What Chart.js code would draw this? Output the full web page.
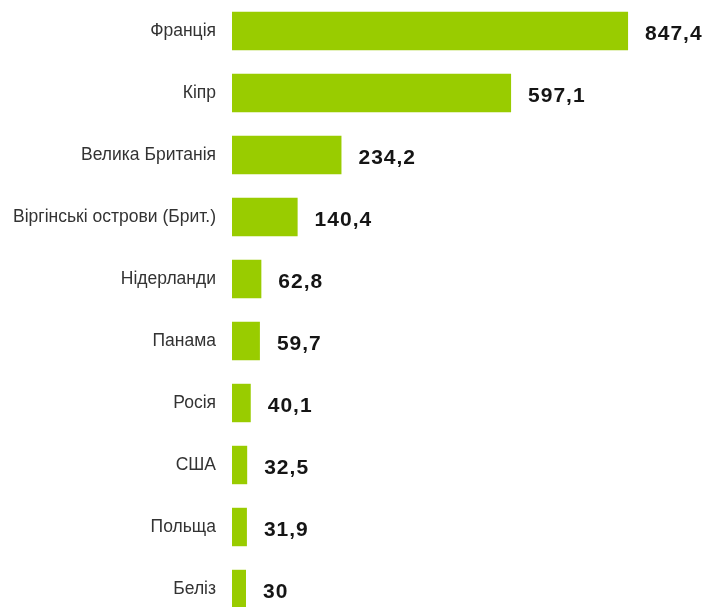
<!DOCTYPE html>
<html>
<head>
<meta charset="utf-8">
<script src="https://cdn.jsdelivr.net/npm/chart.js@4"></script>
<style>
    html, body { margin: 0; padding: 0; background: #fff; overflow: hidden; }
    #wrap { width: 705px; height: 607px; overflow: hidden; }
</style>
</head>
<body>
<div id="wrap"><canvas id="barChart" width="705" height="620"></canvas></div>
<script>
// countries and values
const countries = [
    'Франція',
    'Кіпр',
    'Велика Британія',
    'Віргінські острови (Брит.)',
    'Нідерланди',
    'Панама',
    'Росія',
    'США',
    'Польща',
    'Беліз'
];
const values = [847.4, 597.1, 234.2, 140.4, 62.8, 59.7, 40.1, 32.5, 31.9, 30];
const valueLabels = ['847,4', '597,1', '234,2', '140,4', '62,8', '59,7', '40,1', '32,5', '31,9', '30'];

// draws the value text right of each bar
const valueLabelPlugin = {
    id: 'valueLabels',
    afterDatasetsDraw(chart) {
        const ctx = chart.ctx;
        const meta = chart.getDatasetMeta(0);
        ctx.save();
        ctx.font = 'bold 21px "Liberation Sans", Arial, sans-serif';
        ctx.letterSpacing = '1px';
        ctx.fillStyle = '#151515';
        ctx.textAlign = 'left';
        ctx.textBaseline = 'middle';
        meta.data.forEach((bar, i) => {
            ctx.fillText(valueLabels[i], bar.x + 17, bar.y + 3);
        });
        ctx.restore();
    }
};

const ctx = document.getElementById('barChart').getContext('2d');
new Chart(ctx, {
    type: 'bar',
    data: {
        labels: countries,
        datasets: [{
            data: values,
            backgroundColor: '#99cc00',
            borderWidth: 0,
            barPercentage: 0.62,
            categoryPercentage: 1
        }]
    },
    options: {
        indexAxis: 'y',
        responsive: false,
        animation: false,
        layout: { padding: 0 },
        scales: {
            x: {
                display: false,
                min: 0,
                max: 1012
            },
            y: {
                grid: { display: false, drawTicks: false },
                border: { display: false },
                ticks: {
                    padding: 16,
                    color: '#333',
                    font: { family: '"Liberation Sans", Arial, sans-serif', size: 17.5 }
                },
                afterFit(scale) {
                    scale.width = 232;
                    scale.paddingTop = 0;
                    scale.paddingBottom = 0;
                }
            }
        },
        plugins: {
            legend: { display: false },
            tooltip: { enabled: false }
        }
    },
    plugins: [valueLabelPlugin]
});
</script>
</body>
</html>
